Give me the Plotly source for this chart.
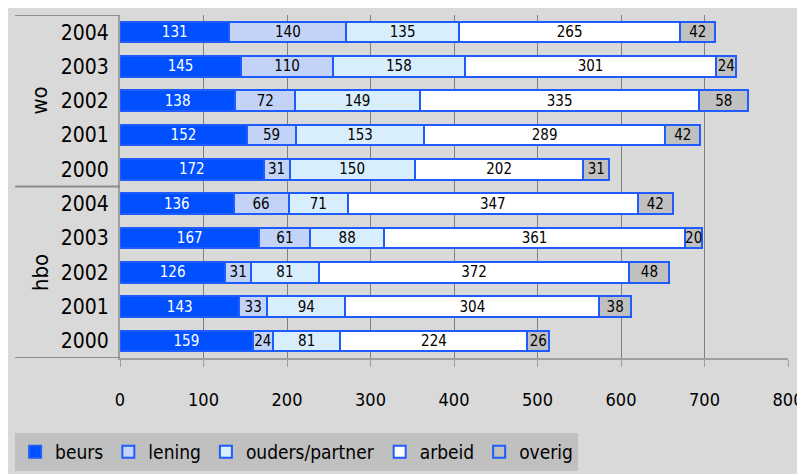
import plotly.graph_objects as go

# categories
groups = ["wo", "hbo"]
years = ["2004", "2003", "2002", "2001", "2000"]
row_labels = years + years

# series (wo rows first, then hbo rows)
beurs = [131, 145, 138, 152, 172, 136, 167, 126, 143, 159]
lening = [140, 110, 72, 59, 31, 66, 61, 31, 33, 24]
ouders = [135, 158, 149, 153, 150, 71, 88, 81, 94, 81]
arbeid = [265, 301, 335, 289, 202, 347, 361, 372, 304, 224]
overig = [42, 24, 58, 42, 31, 42, 20, 48, 38, 26]

x_ticks = [0, 100, 200, 300, 400, 500, 600, 700, 800]

FONT = "Liberation Sans Narrow, Arial Narrow, DejaVu Sans Condensed, sans-serif"
EDGE = "#1f5cff"
rows = list(range(len(row_labels)))

series = [
    ("beurs", beurs, "#0050ff", "white"),
    ("lening", lening, "#c3d3f7", "black"),
    ("ouders/partner", ouders, "#d9eefc", "black"),
    ("arbeid", arbeid, "#ffffff", "black"),
    ("overig", overig, "#c0c0c0", "black"),
]

fig = go.Figure()
for name, vals, color, txtcolor in series:
    fig.add_trace(go.Bar(
        name=name, x=vals, y=rows, orientation="h",
        marker=dict(color=color, line=dict(color=EDGE, width=2)),
        text=[str(v) for v in vals], textposition="inside",
        insidetextanchor="middle", textangle=0,
        insidetextfont=dict(family=FONT, size=15, color=txtcolor),
        hoverinfo="skip",
    ))

# group dividers in label area
shapes = []
for yb in [-0.5, len(years) - 0.5, len(row_labels) - 0.5]:
    shapes.append(dict(type="line", xref="paper", yref="y", x0=-0.157, x1=0,
                       y0=yb, y1=yb, line=dict(color="#8c8c8c", width=2)))

annotations = []
for i, g in enumerate(groups):
    annotations.append(dict(text=g, xref="paper", yref="y", x=-0.12, xanchor="center",
                            y=i * len(years) + (len(years) - 1) / 2, yanchor="middle",
                            showarrow=False, textangle=-90,
                            font=dict(family=FONT, size=22, color="black")))

fig.update_layout(
    width=805, height=474,
    margin=dict(l=112, r=25, t=7, b=124),
    paper_bgcolor="#d9d9d9", plot_bgcolor="#d9d9d9",
    barmode="stack", bargap=0.4,
    shapes=shapes, annotations=annotations,
    uniformtext=dict(minsize=15, mode="show"),
    font=dict(family=FONT, color="black"),
    showlegend=True,
    legend=dict(orientation="h", x=-0.157, xanchor="left", y=-0.2187, yanchor="top",
                bgcolor="#c0c0c0", font=dict(family=FONT, size=19, color="black"),
                traceorder="normal", itemwidth=30),
    xaxis=dict(range=[0, 800], tickvals=x_ticks, ticks="outside", ticklen=7,
               tickcolor="#a0a0a0", tickwidth=1, showgrid=True, gridcolor="#808080",
               gridwidth=1, showline=True, linecolor="#a0a0a0", linewidth=2,
               zeroline=False, tickfont=dict(family=FONT, size=18),
               ticklabelstandoff=17, automargin=False),
    yaxis=dict(range=[len(row_labels) - 0.5, -0.5], tickvals=rows, ticktext=row_labels,
               ticks="", showgrid=False, showline=True, linecolor="#a0a0a0",
               linewidth=2, zeroline=False, tickfont=dict(family=FONT, size=21),
               ticklabelstandoff=5, automargin=False),
)

fig.write_html("out.html")
